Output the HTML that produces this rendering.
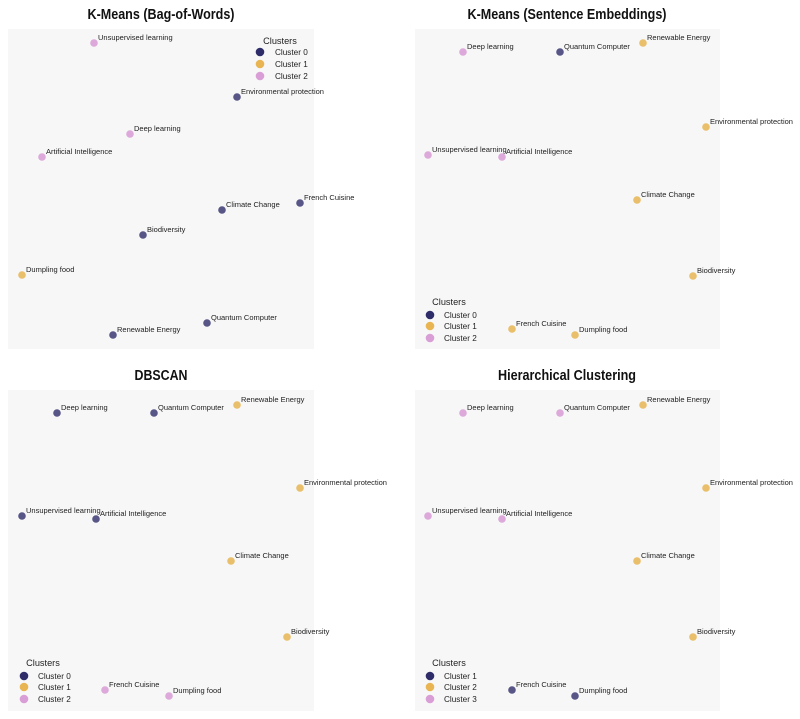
<!DOCTYPE html>
<html><head><meta charset="utf-8"><style>
html,body{margin:0;padding:0;background:#fff}
svg{display:block}
text{font-family:"Liberation Sans",sans-serif}
.t{font-size:14.5px;font-weight:bold;fill:#111;text-anchor:middle}
.l{font-size:7.5px;fill:#222}
.lg{font-size:8.2px;fill:#222}
.lt{font-size:9.2px;fill:#222;text-anchor:middle}
</style></head><body>
<svg width="800" height="719" viewBox="0 0 800 719" xmlns="http://www.w3.org/2000/svg">
<rect x="8" y="29" width="306" height="320" fill="#f7f7f7"/>
<rect x="415" y="29" width="305" height="320" fill="#f7f7f7"/>
<rect x="8" y="390" width="306" height="321" fill="#f7f7f7"/>
<rect x="415" y="390" width="305" height="321" fill="#f7f7f7"/>
<text class="t" x="161" y="19" textLength="147" lengthAdjust="spacingAndGlyphs">K-Means (Bag-of-Words)</text>
<text class="t" x="567" y="19" textLength="199" lengthAdjust="spacingAndGlyphs">K-Means (Sentence Embeddings)</text>
<text class="t" x="161" y="380" textLength="53" lengthAdjust="spacingAndGlyphs">DBSCAN</text>
<text class="t" x="567" y="380" textLength="138" lengthAdjust="spacingAndGlyphs">Hierarchical Clustering</text>
<defs>
<style>.n{fill:#2e2d6a;fill-opacity:.8}.y{fill:#e8b552;fill-opacity:.85}.p{fill:#d99ed6;fill-opacity:.9}</style>
</defs>
<g>
<circle class="p" cx="94" cy="43" r="3.8"/><text class="l" x="98" y="40">Unsupervised learning</text>
<circle class="n" cx="237" cy="97" r="3.8"/><text class="l" x="241" y="94">Environmental protection</text>
<circle class="p" cx="130" cy="134" r="3.8"/><text class="l" x="134" y="131">Deep learning</text>
<circle class="p" cx="42" cy="157" r="3.8"/><text class="l" x="46" y="154">Artificial Intelligence</text>
<circle class="n" cx="300" cy="203" r="3.8"/><text class="l" x="304" y="200">French Cuisine</text>
<circle class="n" cx="222" cy="210" r="3.8"/><text class="l" x="226" y="207">Climate Change</text>
<circle class="n" cx="143" cy="235" r="3.8"/><text class="l" x="147" y="232">Biodiversity</text>
<circle class="y" cx="22" cy="275" r="3.8"/><text class="l" x="26" y="272">Dumpling food</text>
<circle class="n" cx="207" cy="323" r="3.8"/><text class="l" x="211" y="320">Quantum Computer</text>
<circle class="n" cx="113" cy="335" r="3.8"/><text class="l" x="117" y="332">Renewable Energy</text>
<text class="lt" x="280" y="44">Clusters</text>
<circle cx="260" cy="52" r="4.3" fill="#2e2d6a"/><text class="lg" x="275" y="55">Cluster 0</text>
<circle cx="260" cy="64" r="4.3" fill="#e8b552"/><text class="lg" x="275" y="67">Cluster 1</text>
<circle cx="260" cy="76" r="4.3" fill="#d99ed6"/><text class="lg" x="275" y="79">Cluster 2</text>
</g>
<g>
<circle class="p" cx="463" cy="52" r="3.8"/><text class="l" x="467" y="49">Deep learning</text>
<circle class="n" cx="560" cy="52" r="3.8"/><text class="l" x="564" y="49">Quantum Computer</text>
<circle class="y" cx="643" cy="43" r="3.8"/><text class="l" x="647" y="40">Renewable Energy</text>
<circle class="y" cx="706" cy="127" r="3.8"/><text class="l" x="710" y="124">Environmental protection</text>
<circle class="p" cx="428" cy="155" r="3.8"/><text class="l" x="432" y="152">Unsupervised learning</text>
<circle class="p" cx="502" cy="157" r="3.8"/><text class="l" x="506" y="154">Artificial Intelligence</text>
<circle class="y" cx="637" cy="200" r="3.8"/><text class="l" x="641" y="197">Climate Change</text>
<circle class="y" cx="693" cy="276" r="3.8"/><text class="l" x="697" y="273">Biodiversity</text>
<circle class="y" cx="512" cy="329" r="3.8"/><text class="l" x="516" y="326">French Cuisine</text>
<circle class="y" cx="575" cy="335" r="3.8"/><text class="l" x="579" y="332">Dumpling food</text>
<text class="lt" x="449" y="305">Clusters</text>
<circle cx="430" cy="315" r="4.3" fill="#2e2d6a"/><text class="lg" x="444" y="318">Cluster 0</text>
<circle cx="430" cy="326" r="4.3" fill="#e8b552"/><text class="lg" x="444" y="329">Cluster 1</text>
<circle cx="430" cy="338" r="4.3" fill="#d99ed6"/><text class="lg" x="444" y="341">Cluster 2</text>
</g>
<g>
<circle class="n" cx="57" cy="413" r="3.8"/><text class="l" x="61" y="410">Deep learning</text>
<circle class="n" cx="154" cy="413" r="3.8"/><text class="l" x="158" y="410">Quantum Computer</text>
<circle class="y" cx="237" cy="405" r="3.8"/><text class="l" x="241" y="402">Renewable Energy</text>
<circle class="y" cx="300" cy="488" r="3.8"/><text class="l" x="304" y="485">Environmental protection</text>
<circle class="n" cx="22" cy="516" r="3.8"/><text class="l" x="26" y="513">Unsupervised learning</text>
<circle class="n" cx="96" cy="519" r="3.8"/><text class="l" x="100" y="516">Artificial Intelligence</text>
<circle class="y" cx="231" cy="561" r="3.8"/><text class="l" x="235" y="558">Climate Change</text>
<circle class="y" cx="287" cy="637" r="3.8"/><text class="l" x="291" y="634">Biodiversity</text>
<circle class="p" cx="105" cy="690" r="3.8"/><text class="l" x="109" y="687">French Cuisine</text>
<circle class="p" cx="169" cy="696" r="3.8"/><text class="l" x="173" y="693">Dumpling food</text>
<text class="lt" x="43" y="666">Clusters</text>
<circle cx="24" cy="676" r="4.3" fill="#2e2d6a"/><text class="lg" x="38" y="679">Cluster 0</text>
<circle cx="24" cy="687" r="4.3" fill="#e8b552"/><text class="lg" x="38" y="690">Cluster 1</text>
<circle cx="24" cy="699" r="4.3" fill="#d99ed6"/><text class="lg" x="38" y="702">Cluster 2</text>
</g>
<g>
<circle class="p" cx="463" cy="413" r="3.8"/><text class="l" x="467" y="410">Deep learning</text>
<circle class="p" cx="560" cy="413" r="3.8"/><text class="l" x="564" y="410">Quantum Computer</text>
<circle class="y" cx="643" cy="405" r="3.8"/><text class="l" x="647" y="402">Renewable Energy</text>
<circle class="y" cx="706" cy="488" r="3.8"/><text class="l" x="710" y="485">Environmental protection</text>
<circle class="p" cx="428" cy="516" r="3.8"/><text class="l" x="432" y="513">Unsupervised learning</text>
<circle class="p" cx="502" cy="519" r="3.8"/><text class="l" x="506" y="516">Artificial Intelligence</text>
<circle class="y" cx="637" cy="561" r="3.8"/><text class="l" x="641" y="558">Climate Change</text>
<circle class="y" cx="693" cy="637" r="3.8"/><text class="l" x="697" y="634">Biodiversity</text>
<circle class="n" cx="512" cy="690" r="3.8"/><text class="l" x="516" y="687">French Cuisine</text>
<circle class="n" cx="575" cy="696" r="3.8"/><text class="l" x="579" y="693">Dumpling food</text>
<text class="lt" x="449" y="666">Clusters</text>
<circle cx="430" cy="676" r="4.3" fill="#2e2d6a"/><text class="lg" x="444" y="679">Cluster 1</text>
<circle cx="430" cy="687" r="4.3" fill="#e8b552"/><text class="lg" x="444" y="690">Cluster 2</text>
<circle cx="430" cy="699" r="4.3" fill="#d99ed6"/><text class="lg" x="444" y="702">Cluster 3</text>
</g>
</svg>
</body></html>
